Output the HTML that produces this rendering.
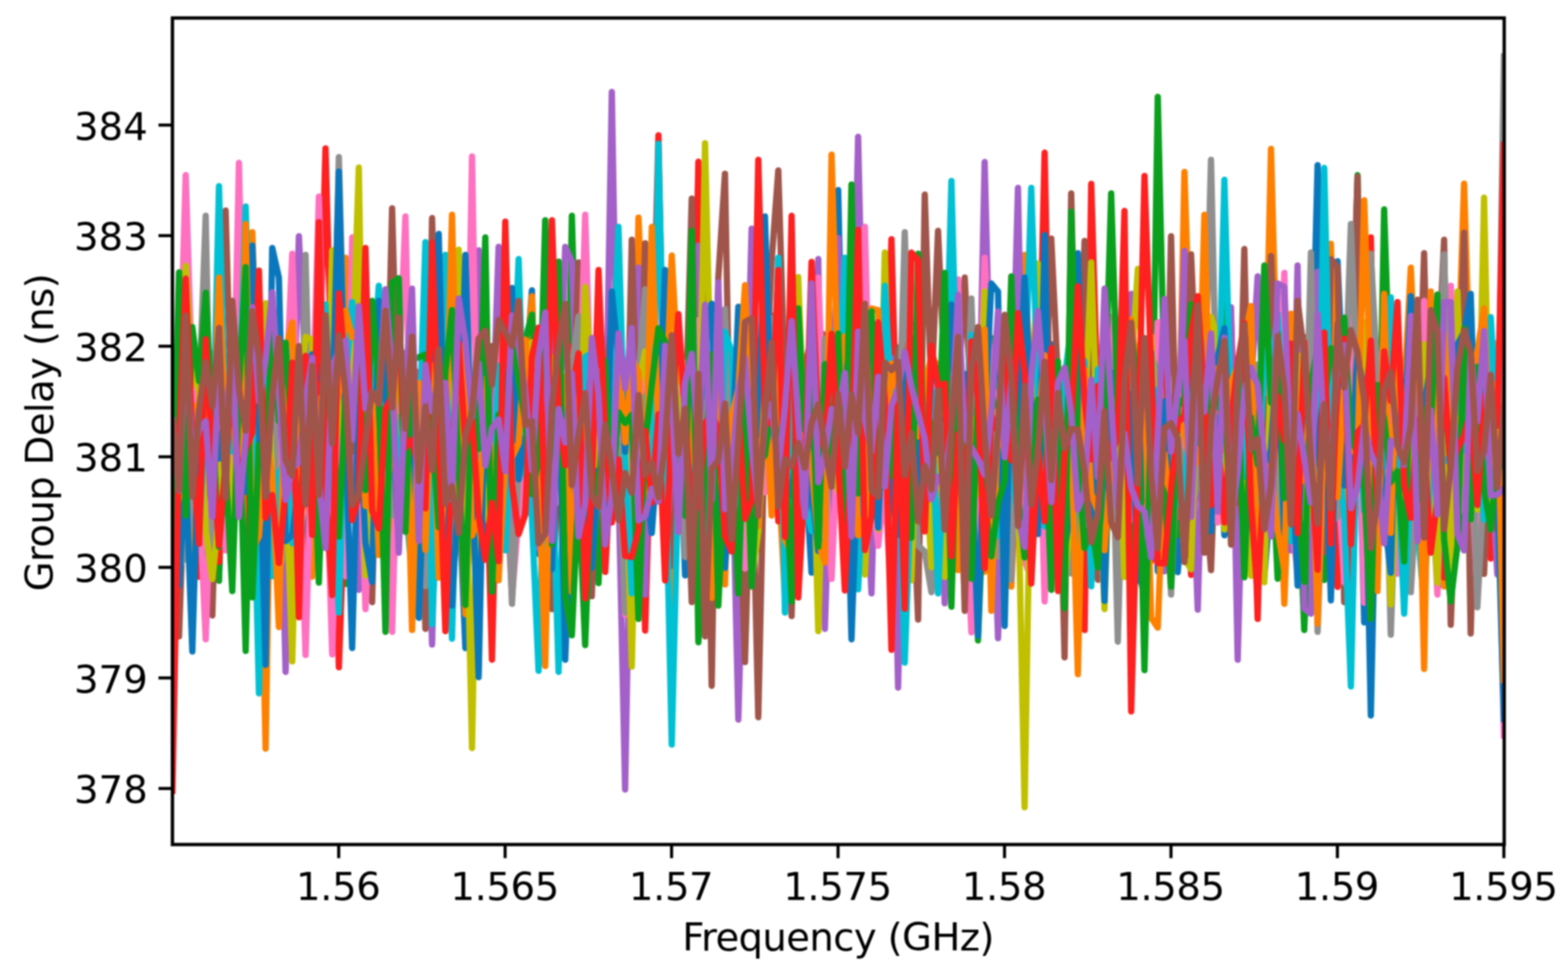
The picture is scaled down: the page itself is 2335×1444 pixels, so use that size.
<!DOCTYPE html>
<html lang="en"><head><meta charset="utf-8"><title>Group Delay vs Frequency</title>
<style>html,body{margin:0;padding:0;background:#fff}body{width:2335px;height:1444px;overflow:hidden}svg{display:block;filter:blur(1px)}text{font-family:"DejaVu Sans","Liberation Sans",sans-serif;fill:#000}</style></head><body>
<svg width="2335" height="1444" viewBox="0 0 2335 1444">
<rect width="2335" height="1444" fill="#fff"/>
<defs><clipPath id="c"><rect x="256.5" y="27.0" width="1983.0" height="1230.0"/></clipPath></defs>
<g clip-path="url(#c)" fill="none" stroke-width="9.4" stroke-linejoin="round" stroke-linecap="butt">
<polyline stroke="#0a77bd" points="256.7,833.9 266.6,685.1 276.5,511.5 286.4,661.6 296.4,551.5 306.3,547.9 316.2,637.8 326.1,859.0 336.0,530.5 345.9,632.0 355.8,617.9 365.8,559.1 375.7,771.0 385.6,754.8 395.5,798.4 405.4,526.9 415.3,906.6 425.3,691.5 435.2,842.7 445.1,785.3 455.0,843.7 464.9,668.4 474.8,683.9 484.7,785.4 494.7,810.7 504.6,876.3 514.5,689.1 524.4,481.7 534.3,647.4 544.2,690.7 554.1,677.0 564.1,822.8 574.0,570.7 583.9,915.1 593.8,605.4 603.7,663.0 613.6,696.8 623.6,563.9 633.5,532.3 643.4,690.3 653.3,597.5 663.2,730.3 673.1,511.5 683.0,723.9 693.0,964.7 702.9,622.5 712.8,674.1 722.7,808.5 732.6,606.7 742.5,652.3 752.4,549.2 762.4,554.4 772.3,538.0 782.2,569.3 792.1,432.3 802.0,824.6 811.9,532.0 821.9,584.2 831.8,523.4 841.7,871.1 851.6,777.9 861.5,622.9 871.4,506.4 881.3,514.0 891.3,546.4 901.2,602.2 911.1,753.8 921.0,716.3 930.9,856.9 940.8,903.9 950.8,711.6 960.7,585.0 970.6,740.3 980.5,681.4 990.4,502.3 1000.3,816.6 1010.2,570.3 1020.2,856.5 1030.1,650.9 1040.0,646.4 1049.9,784.4 1059.8,476.4 1069.7,675.4 1079.6,782.2 1089.6,610.4 1099.5,528.2 1109.4,878.3 1119.3,802.0 1129.2,677.3 1139.1,727.5 1149.0,555.9 1159.0,564.7 1168.9,732.9 1178.8,555.8 1188.7,796.1 1198.6,685.1 1208.5,852.5 1218.5,673.3 1228.4,663.4 1238.3,766.3 1248.2,282.9 1258.1,738.8 1268.0,836.7 1277.9,688.1 1287.9,749.1 1297.8,731.8 1307.7,549.5 1317.6,533.2 1327.5,810.6 1337.4,627.8 1347.3,817.9 1357.3,590.8 1367.2,617.1 1377.1,757.0 1387.0,559.3 1396.9,549.2 1406.8,648.8 1416.8,624.3 1426.7,702.3 1436.6,678.6 1446.5,524.8 1456.4,838.8 1466.3,691.1 1476.2,609.6 1486.2,602.2 1496.1,659.6 1506.0,597.9 1515.9,596.5 1525.8,615.5 1535.7,718.4 1545.6,662.3 1555.6,723.7 1565.5,512.5 1575.4,798.9 1585.3,843.4 1595.2,732.4 1605.1,573.9 1615.1,702.4 1625.0,582.1 1634.9,754.0 1644.8,711.7 1654.7,612.0 1664.6,587.7 1674.5,509.7 1684.5,899.5 1694.4,844.5 1704.3,887.0 1714.2,791.8 1724.1,788.4 1734.0,801.0 1743.9,712.9 1753.9,851.7 1763.8,726.3 1773.7,840.6 1783.6,653.6 1793.5,682.7 1803.4,722.9 1813.4,577.5 1823.3,796.9 1833.2,626.0 1843.1,790.6 1853.0,746.6 1862.9,640.5 1872.8,561.7 1882.8,859.5 1892.7,734.5 1902.6,691.7 1912.5,674.8 1922.4,669.2 1932.3,475.3 1942.2,587.3 1952.2,639.4 1962.1,246.0 1972.0,644.0 1981.9,626.2 1991.8,389.0 2001.7,612.4 2011.7,734.0 2021.6,516.3 2031.5,926.6 2041.4,593.6 2051.3,679.7 2061.2,481.7 2071.1,604.0 2081.1,684.8 2091.0,760.4 2100.9,599.6 2110.8,773.8 2120.7,604.3 2130.6,541.7 2140.5,876.0 2150.5,852.9 2160.4,790.1 2170.3,557.8 2180.2,788.1 2190.1,563.2 2200.0,723.0 2210.0,624.8 2219.9,661.2 2229.8,511.0 2239.7,519.2"/>
<polyline stroke="#ff8000" points="256.7,650.3 266.6,918.8 276.5,681.5 286.4,890.0 296.4,614.4 306.3,597.7 316.2,664.7 326.1,846.1 336.0,680.5 345.9,681.8 355.8,672.8 365.8,789.3 375.7,345.6 385.6,630.9 395.5,1114.5 405.4,521.6 415.3,702.0 425.3,709.7 435.2,831.7 445.1,521.4 455.0,673.3 464.9,858.3 474.8,539.9 484.7,631.7 494.7,739.0 504.6,588.9 514.5,383.8 524.4,757.7 534.3,543.1 544.2,645.7 554.1,755.4 564.1,671.1 574.0,818.1 583.9,773.4 593.8,497.6 603.7,729.8 613.6,722.6 623.6,887.9 633.5,495.4 643.4,472.3 653.3,708.2 663.2,644.1 673.1,534.8 683.0,712.5 693.0,914.2 702.9,747.2 712.8,654.7 722.7,548.3 732.6,666.3 742.5,549.1 752.4,756.2 762.4,553.1 772.3,738.4 782.2,561.1 792.1,441.0 802.0,772.6 811.9,907.7 821.9,530.8 831.8,594.9 841.7,621.1 851.6,588.0 861.5,784.3 871.4,801.7 881.3,669.4 891.3,678.4 901.2,754.2 911.1,500.9 921.0,649.7 930.9,879.9 940.8,828.0 950.8,323.9 960.7,558.8 970.6,565.9 980.5,703.0 990.4,733.1 1000.3,906.4 1010.2,653.6 1020.2,804.8 1030.1,773.3 1040.0,885.3 1049.9,613.4 1059.8,787.7 1069.7,648.6 1079.6,870.0 1089.6,528.5 1099.5,824.9 1109.4,757.2 1119.3,861.5 1129.2,557.1 1139.1,562.4 1149.0,539.9 1159.0,703.2 1168.9,889.4 1178.8,895.1 1188.7,744.7 1198.6,621.0 1208.5,631.2 1218.5,601.9 1228.4,721.9 1238.3,736.2 1248.2,555.1 1258.1,606.7 1268.0,655.0 1277.9,754.9 1287.9,536.8 1297.8,837.5 1307.7,537.1 1317.6,638.3 1327.5,820.0 1337.4,612.0 1347.3,729.4 1357.3,670.4 1367.2,581.7 1377.1,676.0 1387.0,769.6 1396.9,593.3 1406.8,493.8 1416.8,673.6 1426.7,662.1 1436.6,891.6 1446.5,554.7 1456.4,521.6 1466.3,851.1 1476.2,586.8 1486.2,765.8 1496.1,708.6 1506.0,873.3 1515.9,660.5 1525.8,379.5 1535.7,601.7 1545.6,513.4 1555.6,872.6 1565.5,782.3 1575.4,698.2 1585.3,764.9 1595.2,636.8 1605.1,662.0 1615.1,672.0 1625.0,627.6 1634.9,649.5 1644.8,770.1 1654.7,632.4 1664.6,706.9 1674.5,669.0 1684.5,909.3 1694.4,660.9 1704.3,870.0 1714.2,583.6 1724.1,753.1 1734.0,700.1 1743.9,699.2 1753.9,740.5 1763.8,255.9 1773.7,563.1 1783.6,470.4 1793.5,559.2 1803.4,522.2 1813.4,725.4 1823.3,477.4 1833.2,720.4 1843.1,834.1 1853.0,803.2 1862.9,548.2 1872.8,743.0 1882.8,652.4 1892.7,221.7 1902.6,593.1 1912.5,898.9 1922.4,641.8 1932.3,628.8 1942.2,562.9 1952.2,655.4 1962.1,836.3 1972.0,702.4 1981.9,363.0 1991.8,747.4 2001.7,779.0 2011.7,595.8 2021.6,596.9 2031.5,823.1 2041.4,771.8 2051.3,536.8 2061.2,702.9 2071.1,658.2 2081.1,647.7 2091.0,583.2 2100.9,398.5 2110.8,620.3 2120.7,548.7 2130.6,576.3 2140.5,640.2 2150.5,873.1 2160.4,624.7 2170.3,579.4 2180.2,273.4 2190.1,593.3 2200.0,720.8 2210.0,656.5 2219.9,633.8 2229.8,512.6 2239.7,493.6"/>
<polyline stroke="#0aa01e" points="256.7,604.8 266.6,692.2 276.5,635.9 286.4,541.6 296.4,686.4 306.3,497.6 316.2,550.8 326.1,864.5 336.0,537.1 345.9,710.8 355.8,587.1 365.8,969.0 375.7,571.0 385.6,708.0 395.5,573.6 405.4,701.2 415.3,535.7 425.3,691.7 435.2,769.7 445.1,775.5 455.0,514.9 464.9,704.7 474.8,617.4 484.7,659.3 494.7,571.3 504.6,603.4 514.5,869.2 524.4,604.2 534.3,647.1 544.2,870.2 554.1,518.0 564.1,615.1 574.0,863.7 583.9,516.3 593.8,628.8 603.7,537.6 613.6,584.8 623.6,610.2 633.5,729.3 643.4,780.3 653.3,560.8 663.2,829.2 673.1,530.9 683.0,693.3 693.0,789.1 702.9,776.7 712.8,524.5 722.7,621.5 732.6,796.2 742.5,643.6 752.4,526.9 762.4,874.6 772.3,529.9 782.2,505.7 792.1,468.4 802.0,632.4 811.9,646.5 821.9,556.0 831.8,587.4 841.7,866.4 851.6,321.3 861.5,677.0 871.4,815.1 881.3,706.0 891.3,868.1 901.2,611.6 911.1,483.1 921.0,522.8 930.9,605.6 940.8,615.0 950.8,736.2 960.7,763.6 970.6,565.4 980.5,630.2 990.4,801.3 1000.3,841.1 1010.2,535.7 1020.2,531.9 1030.1,651.1 1040.0,541.0 1049.9,685.1 1059.8,826.8 1069.7,729.2 1079.6,614.5 1089.6,608.8 1099.5,867.9 1109.4,619.3 1119.3,560.2 1129.2,506.2 1139.1,631.3 1149.0,635.5 1159.0,547.6 1168.9,684.4 1178.8,602.9 1188.7,705.7 1198.6,633.7 1208.5,545.8 1218.5,870.0 1228.4,844.2 1238.3,550.0 1248.2,601.5 1258.1,598.0 1268.0,519.3 1277.9,585.9 1287.9,726.5 1297.8,653.8 1307.7,751.9 1317.6,543.8 1327.5,754.7 1337.4,734.3 1347.3,753.9 1357.3,502.4 1367.2,555.6 1377.1,599.1 1387.0,712.4 1396.9,680.3 1406.8,749.8 1416.8,630.7 1426.7,534.2 1436.6,729.2 1446.5,559.1 1456.4,953.4 1466.3,704.6 1476.2,503.5 1486.2,717.7 1496.1,692.1 1506.0,698.4 1515.9,664.4 1525.8,799.1 1535.7,805.1 1545.6,594.8 1555.6,674.5 1565.5,679.0 1575.4,581.7 1585.3,714.5 1595.2,490.9 1605.1,572.2 1615.1,613.6 1625.0,638.8 1634.9,731.5 1644.8,541.4 1654.7,581.2 1664.6,533.4 1674.5,611.8 1684.5,817.8 1694.4,702.9 1704.3,575.1 1714.2,773.4 1724.1,144.2 1734.0,577.5 1743.9,609.2 1753.9,796.2 1763.8,645.7 1773.7,568.7 1783.6,654.5 1793.5,701.5 1803.4,632.2 1813.4,612.3 1823.3,415.0 1833.2,575.7 1843.1,557.5 1853.0,553.7 1862.9,552.4 1872.8,636.0 1882.8,477.0 1892.7,645.0 1902.6,861.5 1912.5,689.8 1922.4,612.6 1932.3,682.1 1942.2,937.9 1952.2,709.4 1962.1,539.6 1972.0,863.4 1981.9,602.4 1991.8,830.6 2001.7,663.6 2011.7,608.5 2021.6,260.7 2031.5,879.7 2041.4,556.2 2051.3,833.0 2061.2,311.8 2071.1,613.4 2081.1,781.8 2091.0,609.6 2100.9,860.0 2110.8,553.6 2120.7,851.5 2130.6,679.7 2140.5,557.0 2150.5,633.7 2160.4,887.0 2170.3,608.4 2180.2,797.7 2190.1,803.1 2200.0,767.7 2210.0,765.3 2219.9,672.5 2229.8,553.0 2239.7,671.0"/>
<polyline stroke="#ff2020" points="256.7,795.1 266.6,572.4 276.5,573.1 286.4,531.7 296.4,858.6 306.3,576.0 316.2,535.8 326.1,836.6 336.0,684.8 345.9,468.0 355.8,759.8 365.8,617.1 375.7,850.4 385.6,721.7 395.5,710.9 405.4,592.0 415.3,702.6 425.3,741.7 435.2,805.5 445.1,694.4 455.0,721.5 464.9,528.6 474.8,589.0 484.7,220.9 494.7,589.2 504.6,993.3 514.5,715.6 524.4,518.5 534.3,712.5 544.2,770.0 554.1,572.3 564.1,571.4 574.0,563.8 583.9,590.6 593.8,669.0 603.7,645.6 613.6,545.7 623.6,559.0 633.5,674.7 643.4,876.9 653.3,519.6 663.2,655.5 673.1,596.6 683.0,676.1 693.0,682.2 702.9,684.6 712.8,539.0 722.7,623.2 732.6,982.0 742.5,567.2 752.4,685.7 762.4,570.6 772.3,720.8 782.2,671.9 792.1,718.0 802.0,736.6 811.9,562.1 821.9,610.1 831.8,560.0 841.7,504.9 851.6,527.5 861.5,697.0 871.4,525.9 881.3,553.2 891.3,520.4 901.2,851.4 911.1,671.2 921.0,594.5 930.9,589.1 940.8,547.7 950.8,545.0 960.7,938.7 970.6,600.7 980.5,201.5 990.4,695.5 1000.3,514.4 1010.2,669.7 1020.2,656.1 1030.1,720.8 1040.0,240.8 1049.9,703.5 1059.8,803.7 1069.7,502.6 1079.6,639.0 1089.6,663.7 1099.5,835.5 1109.4,741.2 1119.3,841.7 1129.2,704.6 1139.1,589.1 1149.0,469.6 1159.0,776.1 1168.9,604.1 1178.8,748.7 1188.7,671.8 1198.6,544.6 1208.5,503.6 1218.5,470.9 1228.4,638.5 1238.3,641.2 1248.2,674.2 1258.1,706.8 1268.0,480.2 1277.9,541.9 1287.9,750.9 1297.8,625.1 1307.7,783.6 1317.6,667.0 1327.5,356.1 1337.4,727.8 1347.3,512.1 1357.3,794.6 1367.2,587.7 1377.1,782.5 1387.0,524.7 1396.9,680.2 1406.8,514.6 1416.8,517.8 1426.7,677.8 1436.6,817.1 1446.5,746.3 1456.4,771.6 1466.3,474.5 1476.2,699.4 1486.2,871.0 1496.1,630.7 1506.0,843.8 1515.9,693.5 1525.8,708.6 1535.7,704.4 1545.6,649.9 1555.6,227.3 1565.5,719.8 1575.4,556.4 1585.3,795.0 1595.2,496.2 1605.1,679.6 1615.1,937.9 1625.0,273.7 1634.9,612.2 1644.8,523.4 1654.7,476.9 1664.6,861.8 1674.5,754.5 1684.5,548.5 1694.4,834.6 1704.3,666.1 1714.2,835.0 1724.1,480.0 1734.0,498.2 1743.9,822.1 1753.9,586.3 1763.8,563.4 1773.7,855.8 1783.6,614.6 1793.5,605.5 1803.4,720.8 1813.4,532.9 1823.3,620.6 1833.2,472.1 1843.1,761.6 1853.0,685.9 1862.9,566.0 1872.8,921.4 1882.8,524.3 1892.7,550.6 1902.6,750.6 1912.5,541.6 1922.4,719.4 1932.3,702.6 1942.2,502.0 1952.2,632.1 1962.1,644.9 1972.0,604.2 1981.9,533.7 1991.8,873.7 2001.7,527.1 2011.7,881.9 2021.6,559.9 2031.5,759.5 2041.4,353.4 2051.3,816.4 2061.2,686.3 2071.1,727.6 2081.1,556.6 2091.0,596.5 2100.9,663.5 2110.8,648.5 2120.7,488.0 2130.6,588.5 2140.5,797.8 2150.5,859.7 2160.4,548.6 2170.3,573.6 2180.2,737.5 2190.1,718.1 2200.0,613.5 2210.0,685.6 2219.9,831.5 2229.8,691.4 2239.7,467.0"/>
<polyline stroke="#a360c8" points="256.7,1042.1 266.6,725.5 276.5,692.9 286.4,638.6 296.4,525.9 306.3,828.2 316.2,766.0 326.1,772.2 336.0,617.3 345.9,521.2 355.8,585.6 365.8,714.6 375.7,707.6 385.6,841.3 395.5,843.1 405.4,669.0 415.3,592.6 425.3,1000.2 435.2,703.4 445.1,351.6 455.0,555.3 464.9,576.9 474.8,747.4 484.7,480.5 494.7,755.5 504.6,588.4 514.5,641.6 524.4,616.1 534.3,878.1 544.2,658.9 554.1,496.3 564.1,598.9 574.0,743.2 583.9,590.9 593.8,660.8 603.7,525.1 613.6,714.5 623.6,808.2 633.5,566.8 643.4,959.5 653.3,581.8 663.2,868.6 673.1,581.0 683.0,652.7 693.0,604.7 702.9,743.3 712.8,372.6 722.7,728.4 732.6,659.1 742.5,367.4 752.4,717.6 762.4,789.7 772.3,555.6 782.2,532.7 792.1,725.3 802.0,816.6 811.9,604.2 821.9,501.6 831.8,674.1 841.7,367.4 851.6,389.0 861.5,665.8 871.4,541.4 881.3,808.9 891.3,731.7 901.2,701.5 911.1,136.9 921.0,719.4 930.9,1175.4 940.8,630.3 950.8,398.5 960.7,885.0 970.6,537.6 980.5,649.8 990.4,608.1 1000.3,764.4 1010.2,498.0 1020.2,799.1 1030.1,707.9 1040.0,365.6 1049.9,885.4 1059.8,793.2 1069.7,512.7 1079.6,666.8 1089.6,635.6 1099.5,1071.2 1109.4,713.9 1119.3,340.4 1129.2,732.1 1139.1,722.9 1149.0,605.4 1159.0,710.7 1168.9,677.0 1178.8,765.3 1188.7,750.2 1198.6,589.9 1208.5,614.8 1218.5,385.6 1228.4,936.1 1238.3,624.1 1248.2,354.4 1258.1,775.5 1268.0,647.4 1277.9,203.6 1287.9,663.6 1297.8,883.3 1307.7,533.2 1317.6,677.2 1327.5,533.0 1337.4,1023.6 1347.3,604.2 1357.3,822.0 1367.2,842.7 1377.1,633.4 1387.0,694.4 1396.9,572.3 1406.8,898.0 1416.8,668.0 1426.7,575.3 1436.6,589.0 1446.5,595.7 1456.4,705.4 1466.3,241.3 1476.2,630.8 1486.2,950.0 1496.1,684.9 1506.0,652.2 1515.9,279.8 1525.8,763.8 1535.7,728.3 1545.6,407.2 1555.6,779.1 1565.5,826.8 1575.4,669.5 1585.3,868.1 1595.2,667.1 1605.1,523.2 1615.1,670.4 1625.0,807.3 1634.9,748.0 1644.8,559.2 1654.7,629.8 1664.6,735.9 1674.5,752.2 1684.5,437.5 1694.4,649.8 1704.3,864.9 1714.2,757.6 1724.1,683.9 1734.0,850.4 1743.9,600.7 1753.9,670.8 1763.8,373.4 1773.7,630.5 1783.6,907.6 1793.5,563.2 1803.4,694.9 1813.4,632.9 1823.3,532.3 1833.2,457.4 1843.1,982.0 1853.0,610.6 1862.9,580.7 1872.8,411.5 1882.8,646.9 1892.7,644.5 1902.6,509.5 1912.5,807.7 1922.4,819.4 1932.3,395.1 1942.2,905.8 1952.2,913.6 1962.1,404.6 1972.0,669.2 1981.9,682.7 1991.8,519.7 2001.7,658.5 2011.7,693.8 2021.6,617.7 2031.5,876.5 2041.4,404.6 2051.3,573.5 2061.2,717.3 2071.1,551.0 2081.1,568.9 2091.0,730.7 2100.9,557.1 2110.8,727.3 2120.7,621.1 2130.6,750.7 2140.5,726.0 2150.5,669.9 2160.4,622.7 2170.3,505.2 2180.2,634.2 2190.1,586.2 2200.0,688.5 2210.0,811.7 2219.9,679.3 2229.8,855.3 2239.7,594.2"/>
<polyline stroke="#a0554a" points="256.7,541.8 266.6,947.4 276.5,660.3 286.4,761.8 296.4,792.8 306.3,579.1 316.2,916.2 326.1,572.0 336.0,313.5 345.9,660.6 355.8,659.6 365.8,654.4 375.7,682.9 385.6,646.7 395.5,676.8 405.4,657.5 415.3,750.1 425.3,615.3 435.2,690.5 445.1,727.0 455.0,907.6 464.9,635.3 474.8,691.5 484.7,573.5 494.7,712.6 504.6,713.1 514.5,609.8 524.4,671.8 534.3,550.4 544.2,685.5 554.1,896.3 564.1,517.2 574.0,717.3 583.9,310.1 593.8,673.2 603.7,531.8 613.6,694.8 623.6,595.3 633.5,936.1 643.4,324.8 653.3,657.7 663.2,836.6 673.1,900.3 683.0,531.6 693.0,820.0 702.9,724.1 712.8,889.2 722.7,609.7 732.6,515.1 742.5,633.6 752.4,815.9 762.4,670.3 772.3,791.5 782.2,637.9 792.1,677.4 802.0,775.4 811.9,643.4 821.9,906.7 831.8,691.4 841.7,609.0 851.6,645.2 861.5,390.8 871.4,627.5 881.3,887.6 891.3,588.9 901.2,571.9 911.1,476.5 921.0,671.9 930.9,804.9 940.8,357.0 950.8,722.7 960.7,362.2 970.6,705.1 980.5,639.5 990.4,691.2 1000.3,842.2 1010.2,677.4 1020.2,644.7 1030.1,295.7 1040.0,855.2 1049.9,378.6 1059.8,1021.0 1069.7,413.3 1079.6,258.6 1089.6,813.2 1099.5,671.5 1109.4,985.5 1119.3,640.1 1129.2,1067.7 1139.1,612.9 1149.0,389.0 1159.0,253.8 1168.9,575.3 1178.8,917.1 1188.7,566.9 1198.6,672.3 1208.5,598.6 1218.5,493.0 1228.4,499.1 1238.3,524.2 1248.2,707.3 1258.1,749.1 1268.0,621.9 1277.9,590.4 1287.9,793.1 1297.8,589.5 1307.7,521.0 1317.6,661.1 1327.5,627.1 1337.4,517.0 1347.3,707.6 1357.3,674.8 1367.2,922.3 1377.1,289.8 1387.0,588.5 1396.9,343.8 1406.8,561.9 1416.8,744.0 1426.7,587.9 1436.6,413.3 1446.5,612.1 1456.4,733.5 1466.3,532.9 1476.2,614.2 1486.2,822.2 1496.1,724.5 1506.0,805.5 1515.9,667.0 1525.8,654.1 1535.7,541.8 1545.6,603.8 1555.6,631.5 1565.5,355.3 1575.4,564.2 1585.3,978.6 1595.2,287.9 1605.1,734.2 1615.1,358.7 1625.0,674.1 1634.9,863.1 1644.8,518.4 1654.7,551.3 1664.6,698.9 1674.5,528.3 1684.5,730.0 1694.4,702.1 1704.3,730.9 1714.2,520.3 1724.1,764.1 1734.0,801.9 1743.9,351.6 1753.9,769.7 1763.8,733.0 1773.7,378.6 1783.6,606.2 1793.5,718.8 1803.4,848.8 1813.4,572.6 1823.3,700.2 1833.2,585.3 1843.1,748.2 1853.0,370.8 1862.9,790.2 1872.8,574.2 1882.8,710.8 1892.7,381.2 1902.6,627.0 1912.5,833.2 1922.4,638.0 1932.3,857.4 1942.2,583.4 1952.2,587.8 1962.1,546.6 1972.0,821.7 1981.9,385.6 1991.8,397.7 2001.7,896.3 2011.7,564.9 2021.6,263.3 2031.5,798.2 2041.4,766.7 2051.3,534.2 2061.2,645.5 2071.1,860.8 2081.1,633.8 2091.0,846.7 2100.9,601.7 2110.8,684.1 2120.7,376.9 2130.6,768.6 2140.5,575.5 2150.5,357.0 2160.4,930.1 2170.3,670.2 2180.2,346.4 2190.1,943.1 2200.0,588.7 2210.0,854.2 2219.9,622.6 2229.8,789.1 2239.7,470.2"/>
<polyline stroke="#ff70c0" points="256.7,558.5 266.6,604.9 276.5,260.7 286.4,574.6 296.4,727.9 306.3,951.7 316.2,681.5 326.1,601.7 336.0,819.4 345.9,708.0 355.8,242.5 365.8,708.9 375.7,543.2 385.6,639.0 395.5,670.5 405.4,707.0 415.3,687.4 425.3,600.2 435.2,377.8 445.1,669.5 455.0,975.1 464.9,632.9 474.8,292.7 484.7,650.1 494.7,974.2 504.6,612.9 514.5,857.9 524.4,353.4 534.3,589.3 544.2,906.7 554.1,705.7 564.1,742.1 574.0,701.4 583.9,940.5 593.8,571.0 603.7,322.2 613.6,768.8 623.6,650.0 633.5,557.0 643.4,510.6 653.3,769.9 663.2,821.6 673.1,526.5 683.0,708.3 693.0,803.6 702.9,233.0 712.8,812.3 722.7,636.1 732.6,803.0 742.5,483.2 752.4,689.8 762.4,890.5 772.3,769.7 782.2,609.3 792.1,530.4 802.0,565.5 811.9,792.9 821.9,757.6 831.8,741.9 841.7,594.3 851.6,933.5 861.5,653.9 871.4,319.6 881.3,642.3 891.3,551.9 901.2,760.7 911.1,481.6 921.0,572.3 930.9,915.4 940.8,564.6 950.8,620.5 960.7,531.4 970.6,511.4 980.5,495.7 990.4,665.2 1000.3,662.8 1010.2,609.8 1020.2,539.7 1030.1,556.6 1040.0,476.7 1049.9,710.8 1059.8,791.2 1069.7,717.5 1079.6,830.3 1089.6,664.7 1099.5,668.4 1109.4,846.2 1119.3,586.0 1129.2,575.9 1139.1,732.8 1149.0,720.6 1159.0,529.5 1168.9,822.0 1178.8,822.5 1188.7,652.6 1198.6,679.0 1208.5,573.9 1218.5,413.3 1228.4,671.9 1238.3,861.8 1248.2,643.6 1258.1,561.8 1268.0,636.4 1277.9,771.8 1287.9,337.8 1297.8,722.2 1307.7,812.5 1317.6,720.2 1327.5,898.0 1337.4,550.7 1347.3,581.4 1357.3,571.1 1367.2,549.9 1377.1,658.4 1387.0,565.2 1396.9,866.9 1406.8,551.8 1416.8,678.0 1426.7,415.9 1436.6,717.2 1446.5,941.3 1456.4,675.9 1466.3,383.8 1476.2,582.3 1486.2,584.1 1496.1,637.1 1506.0,734.0 1515.9,666.7 1525.8,833.8 1535.7,863.2 1545.6,529.3 1555.6,895.4 1565.5,624.4 1575.4,784.4 1585.3,830.8 1595.2,685.1 1605.1,714.3 1615.1,813.3 1625.0,674.4 1634.9,594.4 1644.8,812.7 1654.7,472.0 1664.6,611.8 1674.5,660.1 1684.5,773.6 1694.4,650.0 1704.3,837.5 1714.2,743.9 1724.1,479.9 1734.0,744.9 1743.9,841.4 1753.9,582.9 1763.8,729.6 1773.7,507.4 1783.6,677.0 1793.5,751.7 1803.4,586.5 1813.4,777.8 1823.3,728.4 1833.2,757.7 1843.1,649.9 1853.0,585.9 1862.9,804.5 1872.8,782.7 1882.8,748.3 1892.7,729.0 1902.6,790.1 1912.5,406.3 1922.4,767.2 1932.3,852.6 1942.2,680.3 1952.2,548.4 1962.1,698.4 1972.0,729.0 1981.9,758.3 1991.8,699.2 2001.7,867.0 2011.7,472.1 2021.6,495.6 2031.5,897.4 2041.4,581.2 2051.3,655.2 2061.2,488.0 2071.1,515.7 2081.1,854.0 2091.0,600.3 2100.9,824.0 2110.8,749.6 2120.7,447.9 2130.6,679.8 2140.5,885.0 2150.5,594.4 2160.4,425.4 2170.3,654.9 2180.2,761.7 2190.1,675.4 2200.0,889.0 2210.0,655.7 2219.9,732.2 2229.8,648.9 2239.7,1099.7"/>
<polyline stroke="#8f8f8f" points="256.7,684.6 266.6,843.7 276.5,828.0 286.4,739.8 296.4,594.5 306.3,321.3 316.2,817.7 326.1,785.3 336.0,716.7 345.9,619.7 355.8,594.9 365.8,672.0 375.7,666.0 385.6,497.9 395.5,516.8 405.4,514.2 415.3,838.9 425.3,828.6 435.2,556.2 445.1,862.5 455.0,379.5 464.9,766.8 474.8,769.3 484.7,650.3 494.7,662.0 504.6,233.9 514.5,619.3 524.4,543.7 534.3,629.5 544.2,771.7 554.1,517.3 564.1,557.9 574.0,610.3 583.9,766.9 593.8,620.5 603.7,651.0 613.6,608.0 623.6,724.5 633.5,872.5 643.4,767.4 653.3,599.0 663.2,483.1 673.1,523.2 683.0,576.6 693.0,507.9 702.9,795.1 712.8,587.9 722.7,555.9 732.6,746.1 742.5,770.1 752.4,613.9 762.4,898.9 772.3,700.0 782.2,589.4 792.1,563.9 802.0,615.5 811.9,687.9 821.9,688.6 831.8,467.6 841.7,896.3 851.6,545.4 861.5,470.9 871.4,848.9 881.3,830.6 891.3,724.5 901.2,586.2 911.1,648.8 921.0,659.8 930.9,911.9 940.8,791.5 950.8,563.5 960.7,430.6 970.6,737.5 980.5,670.0 990.4,571.3 1000.3,548.0 1010.2,607.1 1020.2,829.2 1030.1,728.3 1040.0,711.1 1049.9,642.7 1059.8,481.0 1069.7,662.7 1079.6,460.0 1089.6,734.7 1099.5,622.0 1109.4,678.8 1119.3,535.4 1129.2,684.3 1139.1,526.5 1149.0,473.4 1159.0,715.3 1168.9,705.7 1178.8,796.5 1188.7,619.0 1198.6,732.2 1208.5,487.8 1218.5,814.7 1228.4,504.2 1238.3,686.4 1248.2,600.8 1258.1,662.6 1268.0,619.6 1277.9,713.4 1287.9,677.8 1297.8,697.7 1307.7,661.4 1317.6,559.6 1327.5,772.0 1337.4,694.2 1347.3,345.6 1357.3,669.9 1367.2,811.9 1377.1,821.1 1387.0,881.6 1396.9,670.6 1406.8,601.1 1416.8,492.8 1426.7,697.6 1436.6,717.2 1446.5,444.4 1456.4,732.6 1466.3,655.6 1476.2,589.8 1486.2,828.8 1496.1,754.2 1506.0,863.1 1515.9,572.1 1525.8,493.1 1535.7,553.9 1545.6,658.5 1555.6,495.4 1565.5,685.7 1575.4,723.9 1585.3,723.8 1595.2,853.7 1605.1,609.0 1615.1,708.7 1625.0,709.0 1634.9,672.1 1644.8,467.5 1654.7,557.4 1664.6,955.2 1674.5,588.6 1684.5,517.5 1694.4,591.6 1704.3,736.9 1714.2,529.0 1724.1,554.1 1734.0,653.0 1743.9,885.0 1753.9,644.4 1763.8,726.0 1773.7,753.5 1783.6,721.3 1793.5,608.1 1803.4,237.9 1813.4,689.8 1823.3,639.0 1833.2,757.9 1843.1,647.1 1853.0,729.3 1862.9,617.1 1872.8,542.6 1882.8,585.9 1892.7,510.7 1902.6,731.7 1912.5,804.6 1922.4,595.4 1932.3,765.0 1942.2,765.9 1952.2,376.0 1962.1,940.5 1972.0,659.1 1981.9,777.1 1991.8,769.3 2001.7,630.8 2011.7,333.4 2021.6,588.8 2031.5,666.7 2041.4,377.8 2051.3,566.1 2061.2,557.2 2071.1,944.8 2081.1,644.1 2091.0,585.3 2100.9,881.6 2110.8,716.4 2120.7,741.8 2130.6,603.3 2140.5,656.5 2150.5,378.6 2160.4,737.5 2170.3,583.4 2180.2,621.9 2190.1,578.0 2200.0,904.1 2210.0,717.3 2219.9,511.1 2229.8,711.7 2239.7,79.2"/>
<polyline stroke="#c0c000" points="256.7,608.4 266.6,655.9 276.5,395.9 286.4,553.5 296.4,582.5 306.3,789.3 316.2,861.9 326.1,768.8 336.0,548.9 345.9,808.2 355.8,604.4 365.8,605.2 375.7,549.5 385.6,596.0 395.5,451.4 405.4,725.4 415.3,888.1 425.3,686.3 435.2,984.6 445.1,592.6 455.0,501.3 464.9,505.9 474.8,781.4 484.7,711.7 494.7,372.6 504.6,561.4 514.5,721.0 524.4,549.9 534.3,249.5 544.2,856.6 554.1,572.1 564.1,528.4 574.0,682.8 583.9,657.8 593.8,728.8 603.7,556.0 613.6,800.4 623.6,639.7 633.5,611.4 643.4,683.1 653.3,554.6 663.2,733.0 673.1,626.5 683.0,371.7 693.0,664.4 702.9,1113.6 712.8,570.7 722.7,754.3 732.6,795.1 742.5,720.1 752.4,537.5 762.4,715.0 772.3,599.6 782.2,690.7 792.1,509.4 802.0,730.9 811.9,800.8 821.9,568.1 831.8,535.2 841.7,591.0 851.6,779.9 861.5,737.4 871.4,427.1 881.3,573.7 891.3,725.7 901.2,745.4 911.1,628.8 921.0,535.1 930.9,629.0 940.8,992.4 950.8,573.0 960.7,522.9 970.6,681.5 980.5,587.4 990.4,601.2 1000.3,475.4 1010.2,640.4 1020.2,571.4 1030.1,769.4 1040.0,728.7 1049.9,213.1 1059.8,631.7 1069.7,645.1 1079.6,698.7 1089.6,723.8 1099.5,755.5 1109.4,676.8 1119.3,861.5 1129.2,792.4 1139.1,620.1 1149.0,540.3 1159.0,615.4 1168.9,806.9 1178.8,697.7 1188.7,412.4 1198.6,673.1 1208.5,562.1 1218.5,939.6 1228.4,581.0 1238.3,617.7 1248.2,731.1 1258.1,583.4 1268.0,822.1 1277.9,566.7 1287.9,855.4 1297.8,647.6 1307.7,787.7 1317.6,376.0 1327.5,756.0 1337.4,668.4 1347.3,630.3 1357.3,863.8 1367.2,535.4 1377.1,661.0 1387.0,844.2 1396.9,594.7 1406.8,858.9 1416.8,831.9 1426.7,612.6 1436.6,814.0 1446.5,623.5 1456.4,735.1 1466.3,434.0 1476.2,683.0 1486.2,629.2 1496.1,832.0 1506.0,588.7 1515.9,715.6 1525.8,1201.8 1535.7,604.7 1545.6,392.5 1555.6,777.7 1565.5,721.7 1575.4,644.4 1585.3,871.6 1595.2,746.1 1605.1,728.9 1615.1,636.8 1625.0,390.8 1634.9,670.9 1644.8,906.7 1654.7,604.4 1664.6,587.9 1674.5,859.1 1684.5,554.7 1694.4,400.3 1704.3,611.9 1714.2,500.5 1724.1,683.9 1734.0,688.2 1743.9,841.8 1753.9,648.2 1763.8,831.4 1773.7,847.5 1783.6,518.5 1793.5,686.4 1803.4,471.8 1813.4,503.3 1823.3,788.2 1833.2,697.7 1843.1,702.7 1853.0,678.1 1862.9,857.0 1872.8,607.2 1882.8,866.7 1892.7,540.8 1902.6,588.3 1912.5,803.4 1922.4,610.2 1932.3,527.9 1942.2,833.1 1952.2,683.4 1962.1,750.7 1972.0,537.4 1981.9,617.6 1991.8,720.7 2001.7,704.1 2011.7,785.1 2021.6,714.9 2031.5,479.1 2041.4,707.5 2051.3,590.9 2061.2,604.0 2071.1,899.7 2081.1,690.6 2091.0,773.1 2100.9,699.7 2110.8,549.1 2120.7,512.8 2130.6,725.8 2140.5,867.5 2150.5,507.2 2160.4,874.6 2170.3,434.0 2180.2,718.9 2190.1,554.3 2200.0,758.4 2210.0,294.1 2219.9,759.1 2229.8,574.8 2239.7,920.4"/>
<polyline stroke="#00c0d4" points="256.7,600.2 266.6,828.1 276.5,580.0 286.4,677.2 296.4,795.6 306.3,611.5 316.2,702.8 326.1,277.2 336.0,651.0 345.9,672.2 355.8,606.9 365.8,307.5 375.7,610.0 385.6,1032.2 395.5,563.5 405.4,857.7 415.3,703.2 425.3,690.6 435.2,808.6 445.1,659.5 455.0,666.2 464.9,574.7 474.8,782.1 484.7,453.1 494.7,660.9 504.6,911.9 514.5,572.5 524.4,449.6 534.3,541.3 544.2,705.3 554.1,571.6 564.1,425.4 574.0,681.3 583.9,596.5 593.8,685.6 603.7,749.3 613.6,855.4 623.6,670.6 633.5,360.5 643.4,929.2 653.3,704.1 663.2,379.5 673.1,950.8 683.0,587.9 693.0,639.3 702.9,694.9 712.8,674.5 722.7,660.4 732.6,752.8 742.5,544.5 752.4,819.4 762.4,628.3 772.3,385.6 782.2,700.9 792.1,769.2 802.0,998.5 811.9,640.9 821.9,671.1 831.8,1000.2 841.7,634.1 851.6,693.0 861.5,680.8 871.4,531.4 881.3,525.5 891.3,569.0 901.2,683.5 911.1,598.4 921.0,337.8 930.9,683.4 940.8,883.3 950.8,662.5 960.7,591.2 970.6,764.1 980.5,214.0 990.4,654.4 1000.3,1108.4 1010.2,704.9 1020.2,659.8 1030.1,756.9 1040.0,632.8 1049.9,797.9 1059.8,483.6 1069.7,821.3 1079.6,493.9 1089.6,523.9 1099.5,866.4 1109.4,613.7 1119.3,799.6 1129.2,696.9 1139.1,667.2 1149.0,670.9 1159.0,383.8 1168.9,911.9 1178.8,543.0 1188.7,660.3 1198.6,754.6 1208.5,790.2 1218.5,638.6 1228.4,816.1 1238.3,493.4 1248.2,597.2 1258.1,383.8 1268.0,654.3 1277.9,877.3 1287.9,658.7 1297.8,655.5 1307.7,706.2 1317.6,425.4 1327.5,600.6 1337.4,643.8 1347.3,986.3 1357.3,709.7 1367.2,553.0 1377.1,673.1 1387.0,580.9 1396.9,883.3 1406.8,657.8 1416.8,269.4 1426.7,654.3 1436.6,679.0 1446.5,498.1 1456.4,595.7 1466.3,763.8 1476.2,643.4 1486.2,797.0 1496.1,576.6 1506.0,700.3 1515.9,769.6 1525.8,595.5 1535.7,279.8 1545.6,588.2 1555.6,783.3 1565.5,681.4 1575.4,670.9 1585.3,565.6 1595.2,485.0 1605.1,828.9 1615.1,537.9 1625.0,872.9 1634.9,549.9 1644.8,738.5 1654.7,665.6 1664.6,604.4 1674.5,624.8 1684.5,543.5 1694.4,783.4 1704.3,513.6 1714.2,594.8 1724.1,579.9 1734.0,739.7 1743.9,683.1 1753.9,748.0 1763.8,761.1 1773.7,493.1 1783.6,476.6 1793.5,610.9 1803.4,729.4 1813.4,663.7 1823.3,267.6 1833.2,628.6 1843.1,563.8 1853.0,709.2 1862.9,552.7 1872.8,757.0 1882.8,523.2 1892.7,558.6 1902.6,466.8 1912.5,627.8 1922.4,805.5 1932.3,804.1 1942.2,605.6 1952.2,586.1 1962.1,777.2 1972.0,250.0 1981.9,683.5 1991.8,670.4 2001.7,764.0 2011.7,1021.8 2021.6,599.8 2031.5,760.7 2041.4,721.8 2051.3,593.8 2061.2,695.3 2071.1,442.7 2081.1,686.1 2091.0,913.6 2100.9,704.8 2110.8,781.0 2120.7,901.7 2130.6,688.8 2140.5,685.8 2150.5,682.9 2160.4,689.5 2170.3,555.9 2180.2,670.6 2190.1,629.4 2200.0,598.8 2210.0,773.2 2219.9,472.1 2229.8,639.7 2239.7,842.3"/>
<polyline stroke="#0a77bd" points="256.7,607.0 266.6,871.3 276.5,699.2 286.4,969.9 296.4,627.1 306.3,496.9 316.2,591.9 326.1,682.7 336.0,606.7 345.9,626.5 355.8,711.3 365.8,732.1 375.7,365.6 385.6,628.1 395.5,989.8 405.4,369.1 415.3,413.3 425.3,805.5 435.2,796.0 445.1,722.0 455.0,597.1 464.9,527.4 474.8,562.8 484.7,526.2 494.7,612.6 504.6,255.5 514.5,645.6 524.4,964.7 534.3,596.5 544.2,808.1 554.1,866.2 564.1,447.9 574.0,594.1 583.9,626.1 593.8,803.2 603.7,677.1 613.6,573.5 623.6,919.7 633.5,656.6 643.4,580.4 653.3,348.2 663.2,724.8 673.1,901.5 683.0,725.9 693.0,379.5 702.9,692.2 712.8,1008.0 722.7,545.9 732.6,806.7 742.5,749.1 752.4,647.5 762.4,428.8 772.3,713.5 782.2,651.9 792.1,677.3 802.0,693.2 811.9,707.0 821.9,847.0 831.8,541.0 841.7,982.0 851.6,726.9 861.5,702.5 871.4,735.0 881.3,845.4 891.3,699.6 901.2,775.2 911.1,434.0 921.0,536.0 930.9,672.5 940.8,495.3 950.8,764.9 960.7,710.1 970.6,793.4 980.5,661.6 990.4,402.0 1000.3,581.2 1010.2,756.4 1020.2,685.6 1030.1,515.0 1040.0,645.9 1049.9,518.2 1059.8,452.2 1069.7,710.9 1079.6,845.3 1089.6,690.6 1099.5,456.6 1109.4,751.3 1119.3,593.4 1129.2,647.8 1139.1,322.2 1149.0,641.4 1159.0,753.7 1168.9,746.5 1178.8,731.7 1188.7,652.1 1198.6,619.8 1208.5,725.5 1218.5,820.0 1228.4,562.9 1238.3,678.5 1248.2,576.5 1258.1,563.8 1268.0,951.7 1277.9,665.8 1287.9,554.0 1297.8,658.6 1307.7,785.5 1317.6,558.6 1327.5,740.8 1337.4,796.0 1347.3,576.7 1357.3,514.2 1367.2,717.7 1377.1,732.1 1387.0,554.5 1396.9,567.2 1406.8,623.8 1416.8,453.1 1426.7,703.8 1436.6,556.7 1446.5,683.3 1456.4,946.5 1466.3,635.0 1476.2,421.9 1486.2,434.0 1496.1,931.8 1506.0,519.0 1515.9,641.5 1525.8,413.3 1535.7,603.1 1545.6,795.1 1555.6,349.9 1565.5,813.1 1575.4,635.8 1585.3,820.6 1595.2,747.5 1605.1,376.9 1615.1,706.7 1625.0,803.7 1634.9,606.5 1644.8,894.6 1654.7,554.8 1664.6,592.0 1674.5,575.8 1684.5,592.7 1694.4,858.8 1704.3,617.6 1714.2,524.4 1724.1,850.6 1734.0,597.8 1743.9,789.9 1753.9,622.9 1763.8,629.9 1773.7,509.1 1783.6,578.1 1793.5,683.5 1803.4,790.8 1813.4,531.1 1823.3,488.6 1833.2,700.6 1843.1,663.2 1853.0,600.5 1862.9,543.9 1872.8,695.3 1882.8,712.7 1892.7,668.4 1902.6,519.5 1912.5,805.1 1922.4,640.0 1932.3,871.9 1942.2,530.8 1952.2,720.7 1962.1,663.7 1972.0,575.1 1981.9,893.7 1991.8,527.6 2001.7,722.7 2011.7,701.1 2021.6,529.5 2031.5,582.5 2041.4,1065.1 2051.3,596.6 2061.2,768.8 2071.1,852.7 2081.1,498.6 2091.0,649.0 2100.9,441.0 2110.8,657.8 2120.7,603.0 2130.6,544.2 2140.5,693.4 2150.5,569.5 2160.4,702.9 2170.3,513.0 2180.2,494.7 2190.1,437.5 2200.0,747.0 2210.0,580.7 2219.9,683.8 2229.8,728.4 2239.7,1075.0"/>
<polyline stroke="#ff8000" points="256.7,769.0 266.6,740.7 276.5,712.4 286.4,606.7 296.4,601.4 306.3,541.4 316.2,695.6 326.1,413.3 336.0,644.7 345.9,613.2 355.8,716.7 365.8,333.4 375.7,817.6 385.6,798.1 395.5,647.4 405.4,708.2 415.3,933.5 425.3,521.4 435.2,479.9 445.1,784.1 455.0,727.0 464.9,713.0 474.8,593.2 484.7,705.9 494.7,629.3 504.6,584.8 514.5,462.6 524.4,502.1 534.3,488.7 544.2,753.4 554.1,586.2 564.1,826.3 574.0,743.4 583.9,662.9 593.8,533.3 603.7,548.7 613.6,937.9 623.6,570.1 633.5,818.9 643.4,543.8 653.3,860.0 663.2,692.4 673.1,319.6 683.0,743.0 693.0,510.5 702.9,797.5 712.8,773.8 722.7,563.8 732.6,695.3 742.5,863.8 752.4,680.2 762.4,680.7 772.3,659.7 782.2,505.8 792.1,595.9 802.0,703.2 811.9,991.5 821.9,531.8 831.8,647.4 841.7,561.1 851.6,881.6 861.5,592.7 871.4,686.4 881.3,554.5 891.3,636.3 901.2,690.0 911.1,766.0 921.0,530.8 930.9,658.6 940.8,533.9 950.8,553.9 960.7,745.0 970.6,337.8 980.5,661.4 990.4,634.6 1000.3,380.4 1010.2,566.5 1020.2,572.5 1030.1,657.5 1040.0,717.3 1049.9,854.5 1059.8,890.0 1069.7,572.3 1079.6,696.0 1089.6,619.3 1099.5,578.8 1109.4,424.5 1119.3,638.2 1129.2,783.0 1139.1,575.9 1149.0,767.4 1159.0,497.8 1168.9,803.0 1178.8,824.2 1188.7,635.7 1198.6,656.4 1208.5,687.9 1218.5,807.3 1228.4,837.2 1238.3,230.1 1248.2,575.5 1258.1,500.5 1268.0,572.9 1277.9,797.0 1287.9,767.2 1297.8,459.2 1307.7,461.7 1317.6,712.6 1327.5,541.4 1337.4,589.8 1347.3,799.1 1357.3,643.2 1367.2,649.5 1377.1,574.8 1387.0,529.2 1396.9,548.0 1406.8,617.1 1416.8,586.3 1426.7,848.8 1436.6,699.4 1446.5,647.0 1456.4,633.6 1466.3,490.3 1476.2,909.3 1486.2,611.7 1496.1,676.9 1506.0,503.0 1515.9,768.5 1525.8,625.0 1535.7,647.1 1545.6,642.0 1555.6,529.0 1565.5,594.7 1575.4,693.1 1585.3,639.7 1595.2,648.8 1605.1,1003.7 1615.1,550.1 1625.0,734.6 1634.9,761.1 1644.8,819.1 1654.7,680.0 1664.6,637.5 1674.5,626.2 1684.5,475.6 1694.4,556.6 1704.3,558.6 1714.2,919.7 1724.1,934.4 1734.0,675.6 1743.9,766.4 1753.9,615.0 1763.8,646.7 1773.7,694.7 1783.6,687.3 1793.5,319.6 1803.4,687.3 1813.4,548.5 1823.3,671.0 1833.2,569.1 1843.1,545.7 1853.0,506.4 1862.9,455.7 1872.8,882.3 1882.8,688.4 1892.7,708.8 1902.6,788.8 1912.5,849.7 1922.4,466.9 1932.3,628.9 1942.2,716.3 1952.2,571.9 1962.1,928.3 1972.0,612.2 1981.9,717.1 1991.8,740.1 2001.7,571.2 2011.7,669.9 2021.6,675.3 2031.5,298.3 2041.4,598.3 2051.3,879.9 2061.2,437.5 2071.1,793.4 2081.1,514.6 2091.0,647.2 2100.9,696.9 2110.8,559.3 2120.7,995.9 2130.6,434.0 2140.5,696.8 2150.5,496.7 2160.4,683.8 2170.3,702.8 2180.2,553.6 2190.1,725.6 2200.0,524.1 2210.0,459.2 2219.9,699.0 2229.8,570.0 2239.7,1017.4"/>
<polyline stroke="#0aa01e" points="256.7,807.0 266.6,405.5 276.5,767.5 286.4,486.9 296.4,567.2 306.3,435.8 316.2,628.0 326.1,813.9 336.0,694.6 345.9,879.9 355.8,578.3 365.8,397.7 375.7,889.4 385.6,662.5 395.5,672.9 405.4,497.1 415.3,627.0 425.3,510.2 435.2,658.7 445.1,781.6 455.0,650.9 464.9,577.9 474.8,867.4 484.7,581.4 494.7,599.4 504.6,798.7 514.5,584.7 524.4,620.2 534.3,539.2 544.2,729.5 554.1,447.9 564.1,573.3 574.0,940.5 583.9,421.1 593.8,414.1 603.7,791.7 613.6,535.1 623.6,531.9 633.5,527.8 643.4,641.7 653.3,784.9 663.2,554.3 673.1,461.7 683.0,696.7 693.0,900.6 702.9,572.1 712.8,668.2 722.7,353.4 732.6,880.7 742.5,617.2 752.4,664.3 762.4,487.8 772.3,568.0 782.2,626.3 792.1,735.7 802.0,683.5 811.9,327.9 821.9,810.5 831.8,389.4 841.7,887.6 851.6,945.7 861.5,728.5 871.4,960.4 881.3,694.1 891.3,745.9 901.2,537.7 911.1,733.7 921.0,613.8 930.9,629.8 940.8,617.5 950.8,921.4 960.7,658.7 970.6,573.4 980.5,488.6 990.4,508.8 1000.3,531.9 1010.2,712.3 1020.2,767.6 1030.1,343.8 1040.0,956.0 1049.9,691.9 1059.8,527.8 1069.7,901.5 1079.6,695.0 1089.6,672.4 1099.5,883.3 1109.4,558.5 1119.3,873.1 1129.2,689.1 1139.1,677.8 1149.0,594.4 1159.0,664.3 1168.9,675.8 1178.8,895.4 1188.7,459.2 1198.6,640.4 1208.5,557.9 1218.5,813.8 1228.4,542.3 1238.3,676.6 1248.2,496.6 1258.1,775.1 1268.0,274.6 1277.9,734.5 1287.9,587.1 1297.8,463.5 1307.7,730.2 1317.6,708.0 1327.5,708.2 1337.4,590.9 1347.3,743.5 1357.3,800.5 1367.2,377.8 1377.1,719.1 1387.0,630.4 1396.9,673.9 1406.8,406.3 1416.8,903.2 1426.7,543.2 1436.6,793.7 1446.5,861.6 1456.4,582.1 1466.3,744.9 1476.2,828.0 1486.2,749.5 1496.1,714.8 1506.0,411.5 1515.9,735.6 1525.8,829.8 1535.7,675.7 1545.6,595.0 1555.6,619.1 1565.5,878.1 1575.4,538.2 1585.3,905.5 1595.2,314.9 1605.1,676.9 1615.1,815.9 1625.0,776.3 1634.9,844.8 1644.8,628.2 1654.7,287.9 1664.6,615.8 1674.5,542.7 1684.5,492.9 1694.4,580.0 1704.3,997.6 1714.2,606.7 1724.1,706.7 1734.0,735.0 1743.9,873.3 1753.9,605.4 1763.8,591.3 1773.7,453.1 1783.6,658.2 1793.5,664.2 1803.4,562.4 1813.4,606.8 1823.3,578.7 1833.2,797.9 1843.1,567.7 1853.0,859.2 1862.9,621.7 1872.8,691.6 1882.8,395.1 1892.7,599.2 1902.6,496.0 1912.5,741.5 1922.4,718.2 1932.3,732.2 1942.2,866.0 1952.2,571.3 1962.1,517.8 1972.0,598.7 1981.9,518.5 1991.8,558.7 2001.7,473.0 2011.7,653.1 2021.6,673.6 2031.5,726.0 2041.4,921.4 2051.3,573.3 2061.2,624.7 2071.1,717.6 2081.1,701.4 2091.0,835.9 2100.9,532.0 2110.8,744.7 2120.7,609.7 2130.6,641.2 2140.5,438.4 2150.5,803.1 2160.4,895.4 2170.3,812.5 2180.2,489.2 2190.1,773.0 2200.0,545.9 2210.0,727.2 2219.9,788.2 2229.8,676.1 2239.7,696.9"/>
<polyline stroke="#ff2020" points="256.7,1182.0 266.6,657.8 276.5,415.0 286.4,654.8 296.4,809.3 306.3,505.0 316.2,674.8 326.1,811.6 336.0,687.9 345.9,570.5 355.8,719.9 365.8,667.4 375.7,644.1 385.6,402.9 395.5,770.9 405.4,737.0 415.3,838.0 425.3,729.6 435.2,540.0 445.1,918.8 455.0,530.0 464.9,796.4 474.8,330.8 484.7,725.0 494.7,885.9 504.6,436.6 514.5,555.3 524.4,774.4 534.3,736.4 544.2,369.1 554.1,760.0 564.1,786.5 574.0,608.5 583.9,590.4 593.8,489.7 603.7,666.3 613.6,654.5 623.6,700.4 633.5,756.6 643.4,361.3 653.3,644.9 663.2,939.6 673.1,682.6 683.0,510.5 693.0,661.3 702.9,624.3 712.8,766.9 722.7,833.2 732.6,748.3 742.5,835.4 752.4,330.0 762.4,721.0 772.3,795.1 782.2,765.7 792.1,532.1 802.0,487.7 811.9,790.5 821.9,327.9 831.8,610.4 841.7,692.5 851.6,582.8 861.5,526.1 871.4,890.8 881.3,727.5 891.3,402.0 901.2,655.2 911.1,777.8 921.0,684.1 930.9,827.4 940.8,829.0 950.8,788.2 960.7,641.7 970.6,748.3 980.5,616.8 990.4,864.0 1000.3,628.3 1010.2,467.8 1020.2,619.8 1030.1,764.9 1040.0,750.5 1049.9,630.7 1059.8,615.0 1069.7,639.8 1079.6,798.6 1089.6,821.1 1099.5,609.1 1109.4,772.3 1119.3,744.6 1129.2,237.9 1139.1,621.2 1149.0,632.1 1159.0,402.0 1168.9,799.1 1178.8,321.3 1188.7,889.4 1198.6,711.4 1208.5,389.9 1218.5,636.6 1228.4,668.5 1238.3,496.9 1248.2,683.4 1258.1,879.0 1268.0,666.4 1277.9,342.1 1287.9,818.8 1297.8,767.4 1307.7,479.9 1317.6,595.4 1327.5,967.3 1337.4,583.3 1347.3,906.2 1357.3,376.0 1367.2,387.3 1377.1,791.1 1387.0,514.8 1396.9,575.0 1406.8,571.0 1416.8,828.0 1426.7,646.0 1436.6,787.0 1446.5,508.4 1456.4,594.0 1466.3,845.8 1476.2,617.9 1486.2,643.1 1496.1,501.4 1506.0,685.2 1515.9,466.1 1525.8,555.9 1535.7,868.5 1545.6,665.6 1555.6,776.1 1565.5,518.4 1575.4,879.9 1585.3,674.7 1595.2,635.4 1605.1,426.3 1615.1,594.5 1625.0,683.9 1634.9,574.4 1644.8,645.0 1654.7,681.9 1664.6,646.1 1674.5,314.0 1684.5,1059.1 1694.4,696.8 1704.3,261.9 1714.2,550.4 1724.1,838.4 1734.0,838.6 1743.9,727.6 1753.9,629.0 1763.8,618.7 1773.7,498.4 1783.6,441.0 1793.5,599.8 1803.4,751.7 1813.4,647.2 1823.3,777.8 1833.2,627.1 1843.1,541.5 1853.0,480.8 1862.9,748.6 1872.8,887.1 1882.8,695.1 1892.7,757.1 1902.6,590.0 1912.5,655.7 1922.4,511.4 1932.3,793.6 1942.2,509.4 1952.2,685.6 1962.1,848.0 1972.0,495.1 1981.9,809.0 1991.8,555.8 2001.7,504.2 2011.7,810.0 2021.6,643.3 2031.5,632.4 2041.4,507.2 2051.3,764.4 2061.2,523.2 2071.1,596.5 2081.1,449.6 2091.0,721.6 2100.9,770.9 2110.8,624.9 2120.7,662.3 2130.6,822.8 2140.5,742.0 2150.5,563.0 2160.4,700.7 2170.3,668.2 2180.2,648.1 2190.1,612.8 2200.0,751.8 2210.0,589.1 2219.9,613.9 2229.8,633.7 2239.7,210.9"/>
<polyline stroke="#a360c8" points="256.7,622.0 266.6,730.2 276.5,515.4 286.4,677.4 296.4,640.0 306.3,627.0 316.2,769.2 326.1,541.4 336.0,640.7 345.9,512.8 355.8,769.2 365.8,653.1 375.7,457.4 385.6,597.3 395.5,536.1 405.4,434.9 415.3,584.5 425.3,744.1 435.2,697.2 445.1,688.0 455.0,594.6 464.9,532.7 474.8,717.6 484.7,815.9 494.7,546.7 504.6,520.7 514.5,507.1 524.4,654.7 534.3,456.0 544.2,608.1 554.1,583.5 564.1,598.4 574.0,430.6 583.9,553.9 593.8,822.8 603.7,577.5 613.6,429.7 623.6,805.2 633.5,543.1 643.4,612.7 653.3,569.0 663.2,570.2 673.1,743.2 683.0,444.4 693.0,507.8 702.9,620.1 712.8,541.1 722.7,693.0 732.6,637.5 742.5,624.2 752.4,701.6 762.4,469.7 772.3,514.8 782.2,583.2 792.1,699.9 802.0,529.5 811.9,465.2 821.9,805.1 831.8,608.7 841.7,658.9 851.6,556.2 861.5,798.6 871.4,749.8 881.3,503.3 891.3,587.1 901.2,810.5 911.1,736.0 921.0,496.1 930.9,578.3 940.8,488.5 950.8,774.7 960.7,768.4 970.6,727.5 980.5,746.6 990.4,514.6 1000.3,591.8 1010.2,791.7 1020.2,568.9 1030.1,526.7 1040.0,665.0 1049.9,453.6 1059.8,744.4 1069.7,420.2 1079.6,758.1 1089.6,705.1 1099.5,581.3 1109.4,532.5 1119.3,664.5 1129.2,753.7 1139.1,626.0 1149.0,600.7 1159.0,701.6 1168.9,604.4 1178.8,478.2 1188.7,626.5 1198.6,769.2 1208.5,421.9 1218.5,717.9 1228.4,676.6 1238.3,608.7 1248.2,616.4 1258.1,555.4 1268.0,798.6 1277.9,493.8 1287.9,624.4 1297.8,672.6 1307.7,560.9 1317.6,724.1 1327.5,604.3 1337.4,578.3 1347.3,524.1 1357.3,576.0 1367.2,614.9 1377.1,653.1 1387.0,743.1 1396.9,709.5 1406.8,713.7 1416.8,637.1 1426.7,439.2 1436.6,649.3 1446.5,666.3 1456.4,683.3 1466.3,706.8 1476.2,614.5 1486.2,463.5 1496.1,680.8 1506.0,566.1 1515.9,768.3 1525.8,814.2 1535.7,559.9 1545.6,463.3 1555.6,593.1 1565.5,747.5 1575.4,569.4 1585.3,547.5 1595.2,615.1 1605.1,758.8 1615.1,730.3 1625.0,565.2 1634.9,710.3 1644.8,429.7 1654.7,600.2 1664.6,757.0 1674.5,645.3 1684.5,725.9 1694.4,752.8 1704.3,761.3 1714.2,829.8 1724.1,646.7 1734.0,445.3 1743.9,672.2 1753.9,581.2 1763.8,507.2 1773.7,769.5 1783.6,556.7 1793.5,612.9 1803.4,496.4 1813.4,761.8 1823.3,502.7 1833.2,776.3 1843.1,701.4 1853.0,583.9 1862.9,547.0 1872.8,573.5 1882.8,684.1 1892.7,798.6 1902.6,421.9 1912.5,427.1 1922.4,711.0 1932.3,616.5 1942.2,682.5 1952.2,748.3 1962.1,467.6 1972.0,648.4 1981.9,699.9 1991.8,525.6 2001.7,513.9 2011.7,756.6 2021.6,724.1 2031.5,632.8 2041.4,675.2 2051.3,696.7 2061.2,809.0 2071.1,655.9 2081.1,663.5 2091.0,691.8 2100.9,470.4 2110.8,805.5 2120.7,740.6 2130.6,610.8 2140.5,765.7 2150.5,449.6 2160.4,449.6 2170.3,795.1 2180.2,819.4 2190.1,525.8 2200.0,627.4 2210.0,492.8 2219.9,738.0 2229.8,736.1 2239.7,726.4"/>
<polyline stroke="#a0554a" points="256.7,623.8 266.6,729.3 276.5,469.9 286.4,739.3 296.4,611.6 306.3,539.1 316.2,604.6 326.1,488.3 336.0,741.1 345.9,447.9 355.8,579.0 365.8,641.0 375.7,463.5 385.6,531.1 395.5,739.7 405.4,590.4 415.3,503.3 425.3,684.3 435.2,708.0 445.1,515.3 455.0,750.7 464.9,544.6 474.8,736.7 484.7,469.5 494.7,660.1 504.6,499.0 514.5,582.9 524.4,751.8 534.3,736.7 544.2,656.0 554.1,583.7 564.1,601.2 574.0,462.6 583.9,606.4 593.8,472.9 603.7,638.0 613.6,501.1 623.6,716.1 633.5,605.3 643.4,699.7 653.3,520.0 663.2,750.1 673.1,723.8 683.0,793.4 693.0,649.0 702.9,614.5 712.8,504.1 722.7,492.1 732.6,572.4 742.5,476.3 752.4,494.7 762.4,515.1 772.3,447.9 782.2,633.1 792.1,626.7 802.0,808.8 811.9,795.1 821.9,605.2 831.8,516.1 841.7,452.5 851.6,722.0 861.5,647.4 871.4,585.5 881.3,737.9 891.3,754.7 901.2,632.3 911.1,697.0 921.0,774.4 930.9,704.2 940.8,733.4 950.8,588.2 960.7,706.8 970.6,688.3 980.5,740.1 990.4,662.0 1000.3,499.3 1010.2,675.1 1020.2,608.7 1030.1,896.3 1040.0,556.6 1049.9,947.4 1059.8,698.0 1069.7,685.5 1079.6,600.9 1089.6,802.9 1099.5,654.7 1109.4,479.4 1119.3,474.0 1129.2,767.7 1139.1,614.1 1149.0,509.8 1159.0,753.7 1168.9,683.6 1178.8,694.2 1188.7,659.4 1198.6,696.4 1208.5,629.7 1218.5,602.1 1228.4,665.3 1238.3,724.4 1248.2,586.5 1258.1,694.7 1268.0,587.7 1277.9,644.5 1287.9,452.2 1297.8,729.2 1307.7,739.7 1317.6,539.7 1327.5,551.0 1337.4,538.6 1347.3,707.2 1357.3,645.2 1367.2,776.2 1377.1,693.7 1387.0,728.8 1396.9,581.0 1406.8,788.2 1416.8,634.5 1426.7,501.6 1436.6,909.3 1446.5,548.9 1456.4,486.9 1466.3,650.6 1476.2,767.4 1486.2,639.5 1496.1,468.7 1506.0,560.0 1515.9,783.0 1525.8,574.3 1535.7,751.0 1545.6,672.2 1555.6,538.4 1565.5,714.7 1575.4,585.1 1585.3,667.3 1595.2,638.7 1605.1,639.4 1615.1,703.2 1625.0,807.3 1634.9,763.6 1644.8,612.4 1654.7,777.8 1664.6,799.8 1674.5,567.4 1684.5,480.3 1694.4,719.7 1704.3,503.3 1714.2,708.3 1724.1,815.9 1734.0,637.3 1743.9,630.1 1753.9,652.7 1763.8,836.7 1773.7,659.3 1783.6,454.8 1793.5,822.8 1803.4,627.4 1813.4,563.9 1823.3,507.3 1833.2,810.7 1843.1,554.0 1853.0,482.9 1862.9,669.2 1872.8,653.1 1882.8,787.9 1892.7,722.8 1902.6,500.5 1912.5,576.7 1922.4,780.6 1932.3,447.9 1942.2,526.2 1952.2,686.6 1962.1,779.5 1972.0,601.8 1981.9,756.9 1991.8,481.8 2001.7,576.8 2011.7,491.5 2021.6,524.6 2031.5,596.1 2041.4,815.9 2051.3,743.2 2061.2,580.7 2071.1,553.5 2081.1,662.0 2091.0,689.0 2100.9,632.5 2110.8,446.2 2120.7,800.3 2130.6,461.8 2140.5,493.8 2150.5,788.0 2160.4,693.7 2170.3,548.6 2180.2,491.8 2190.1,524.3 2200.0,701.1 2210.0,670.5 2219.9,558.1 2229.8,725.1 2239.7,601.6"/>
</g>
<g stroke="#000" stroke-width="4.6" fill="none">
<line x1="504.4" y1="1257.0" x2="504.4" y2="1277.5"/>
<line x1="752.2" y1="1257.0" x2="752.2" y2="1277.5"/>
<line x1="1000.1" y1="1257.0" x2="1000.1" y2="1277.5"/>
<line x1="1248.0" y1="1257.0" x2="1248.0" y2="1277.5"/>
<line x1="1495.9" y1="1257.0" x2="1495.9" y2="1277.5"/>
<line x1="1743.8" y1="1257.0" x2="1743.8" y2="1277.5"/>
<line x1="1991.6" y1="1257.0" x2="1991.6" y2="1277.5"/>
<line x1="2239.5" y1="1257.0" x2="2239.5" y2="1277.5"/>
<line x1="236.0" y1="1173.8" x2="256.5" y2="1173.8"/>
<line x1="236.0" y1="1009.2" x2="256.5" y2="1009.2"/>
<line x1="236.0" y1="844.6" x2="256.5" y2="844.6"/>
<line x1="236.0" y1="680.0" x2="256.5" y2="680.0"/>
<line x1="236.0" y1="515.4" x2="256.5" y2="515.4"/>
<line x1="236.0" y1="350.8" x2="256.5" y2="350.8"/>
<line x1="236.0" y1="186.2" x2="256.5" y2="186.2"/>
<rect x="256.8" y="26.8" width="1983.2" height="1230.4" stroke-width="5" stroke-linejoin="miter"/>
</g>
<g font-size="57.5px">
<text x="503.6" y="1340.0" text-anchor="middle" letter-spacing="-0.6">1.56</text>
<text x="751.5" y="1340.0" text-anchor="middle" letter-spacing="-0.6">1.565</text>
<text x="999.3" y="1340.0" text-anchor="middle" letter-spacing="-0.6">1.57</text>
<text x="1247.2" y="1340.0" text-anchor="middle" letter-spacing="-0.6">1.575</text>
<text x="1495.1" y="1340.0" text-anchor="middle" letter-spacing="-0.6">1.58</text>
<text x="1743.0" y="1340.0" text-anchor="middle" letter-spacing="-0.6">1.585</text>
<text x="1990.8" y="1340.0" text-anchor="middle" letter-spacing="-0.6">1.59</text>
<text x="2238.7" y="1340.0" text-anchor="middle" letter-spacing="-0.6">1.595</text>
<text x="220.0" y="1196.2" text-anchor="end" letter-spacing="0">378</text>
<text x="220.0" y="1031.6" text-anchor="end" letter-spacing="0">379</text>
<text x="220.0" y="867.0" text-anchor="end" letter-spacing="0">380</text>
<text x="220.0" y="702.4" text-anchor="end" letter-spacing="0">381</text>
<text x="220.0" y="537.8" text-anchor="end" letter-spacing="0">382</text>
<text x="220.0" y="373.2" text-anchor="end" letter-spacing="0">383</text>
<text x="220.0" y="208.6" text-anchor="end" letter-spacing="0">384</text>
<text x="1248.0" y="1414.5" text-anchor="middle" letter-spacing="-0.95">Frequency (GHz)</text>
<text transform="translate(78.5,644.0) rotate(-90)" text-anchor="middle" letter-spacing="-0.95">Group Delay (ns)</text>
</g>
</svg></body></html>
